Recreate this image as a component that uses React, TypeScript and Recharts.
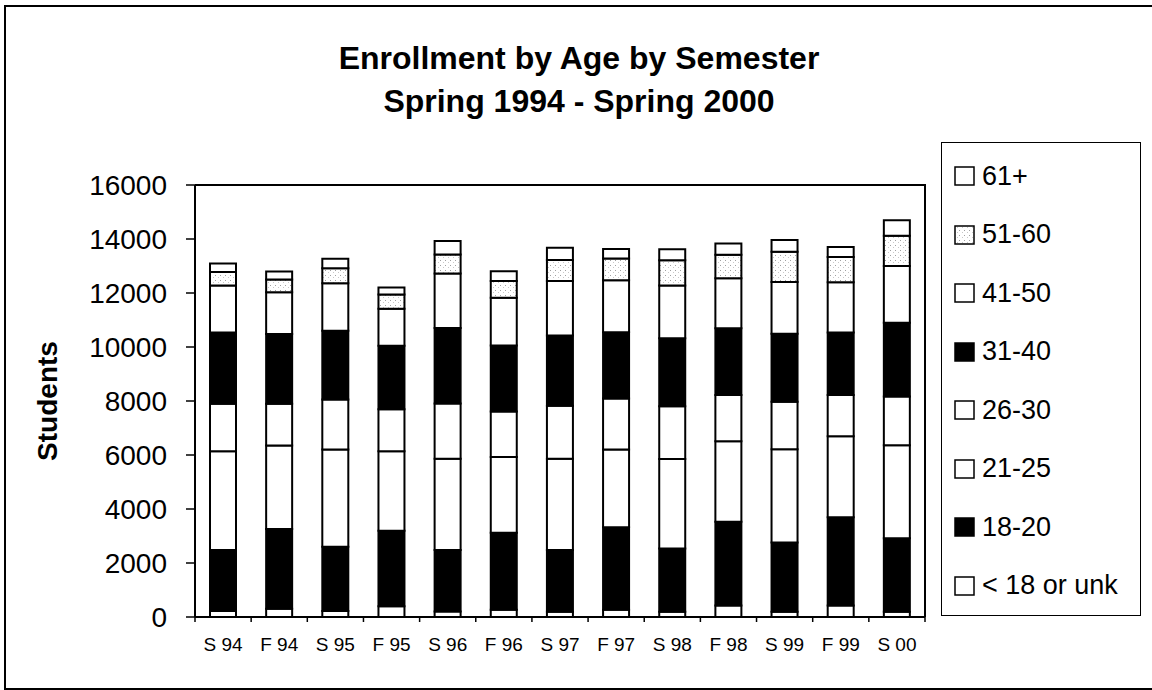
import React from 'react';
import { BarChart, Bar, XAxis, YAxis, Legend } from 'recharts';

const semesters = ['S 94', 'F 94', 'S 95', 'F 95', 'S 96', 'F 96', 'S 97', 'F 97', 'S 98', 'F 98', 'S 99', 'F 99', 'S 00'];

// students per age group
const under18 = [220, 310, 220, 400, 200, 270, 190, 270, 190, 430, 190, 430, 190];
const age18to20 = [2260, 2950, 2380, 2790, 2280, 2850, 2290, 3050, 2350, 3100, 2570, 3260, 2730];
const age21to25 = [3660, 3090, 3600, 2950, 3380, 2810, 3380, 2880, 3310, 2980, 3450, 3000, 3440];
const age26to30 = [1760, 1550, 1860, 1550, 2050, 1680, 1960, 1890, 1960, 1710, 1760, 1530, 1810];
const age31to40 = [2640, 2580, 2540, 2360, 2790, 2450, 2610, 2460, 2510, 2470, 2520, 2320, 2730];
const age41to50 = [1740, 1550, 1760, 1370, 2020, 1760, 2010, 1920, 1960, 1860, 1920, 1860, 2100];
const age51to60 = [500, 470, 560, 520, 710, 620, 780, 810, 930, 870, 1120, 930, 1120];
const age61plus = [310, 300, 350, 260, 500, 370, 460, 350, 410, 410, 430, 370, 570];

const yTicks = [0, 2000, 4000, 6000, 8000, 10000, 12000, 14000, 16000];

const series = [
  { key: 'under18', name: '< 18 or unk', values: under18, fill: '#fff' },
  { key: 'age18to20', name: '18-20', values: age18to20, fill: '#000' },
  { key: 'age21to25', name: '21-25', values: age21to25, fill: '#fff' },
  { key: 'age26to30', name: '26-30', values: age26to30, fill: '#fff' },
  { key: 'age31to40', name: '31-40', values: age31to40, fill: '#000' },
  { key: 'age41to50', name: '41-50', values: age41to50, fill: '#fff' },
  { key: 'age51to60', name: '51-60', values: age51to60, fill: 'url(#dots)' },
  { key: 'age61plus', name: '61+', values: age61plus, fill: '#fff' },
];

const data = semesters.map((sem, i) => {
  const row: Record<string, string | number> = { sem };
  series.forEach((s) => {
    row[s.key] = s.values[i];
  });
  return row;
});

const FONT = '"Liberation Sans", Arial, Helvetica, sans-serif';
const PLOT_LEFT = 195;
const PLOT_TOP = 185;
const PLOT_W = 730;
const PLOT_H = 432;
const BAND = PLOT_W / semesters.length;

const SemesterTick = (props: any) => {
  const { x, y, payload, index } = props;
  const axisY = y - 21;
  return (
    <g>
      <line x1={x - BAND / 2} y1={axisY} x2={x - BAND / 2} y2={axisY + 5} stroke="#000" strokeWidth={1.5} />
      {index === semesters.length - 1 && (
        <line x1={x + BAND / 2} y1={axisY} x2={x + BAND / 2} y2={axisY + 5} stroke="#000" strokeWidth={1.5} />
      )}
      <text x={x} y={y} dy="0.71em" textAnchor="middle" fontSize={19} fontFamily={FONT} fill="#000">
        {payload.value}
      </text>
    </g>
  );
};

const AgeLegend = () => (
  <div
    style={{
      boxSizing: 'border-box',
      width: 200,
      height: 474,
      border: '1.5px solid #000',
      background: '#fff',
      paddingTop: 4,
      fontFamily: FONT,
    }}
  >
    {[...series].reverse().map((s) => (
      <div key={s.key} style={{ display: 'flex', alignItems: 'center', height: 58.5, paddingLeft: 12 }}>
        <svg width={22} height={20} style={{ marginRight: 6 }}>
          <rect x={1} y={1} width={19} height={18} fill={s.fill} stroke="#000" strokeWidth={1.5} />
        </svg>
        <span style={{ fontSize: 27, color: '#000', whiteSpace: 'nowrap' }}>{s.name}</span>
      </div>
    ))}
  </div>
);

export default function App() {
  return (
    <div style={{ position: 'absolute', left: 0, top: 0, width: 1152, height: 690, background: '#fff', overflow: 'hidden' }}>
      <svg width={0} height={0} style={{ position: 'absolute' }}>
        <defs>
          <pattern id="dots" width={5} height={5} patternUnits="userSpaceOnUse">
            <rect width={5} height={5} fill="#fff" />
            <rect x={0} y={0} width={1} height={1} fill="#a0a0a0" />
            <rect x={3} y={2} width={1} height={1} fill="#c8c8c8" />
          </pattern>
        </defs>
      </svg>

      {/* outer chart frame */}
      <div style={{ position: 'absolute', left: 4, top: 5, width: 1170, height: 685, boxSizing: 'border-box', border: '2px solid #000' }} />

      <div style={{ position: 'absolute', left: 0, top: 37, width: 1158, textAlign: 'center', fontFamily: FONT, fontWeight: 'bold', fontSize: 32, lineHeight: '43px', color: '#000' }}>
        Enrollment by Age by Semester
        <br />
        Spring 1994 - Spring 2000
      </div>

      <div
        style={{
          position: 'absolute',
          left: 48,
          top: 401,
          transform: 'translate(-50%, -50%) rotate(-90deg)',
          fontFamily: FONT,
          fontWeight: 'bold',
          fontSize: 28,
          color: '#000',
          whiteSpace: 'nowrap',
        }}
      >
        Students
      </div>

      <div style={{ position: 'absolute', left: 0, top: 0 }}>
        <BarChart
          width={1152}
          height={690}
          data={data}
          margin={{ top: PLOT_TOP, right: 1152 - PLOT_LEFT - PLOT_W, bottom: 690 - PLOT_TOP - PLOT_H - 40, left: 0 }}
          barSize={26}
        >
          <XAxis
            dataKey="sem"
            height={40}
            axisLine={{ stroke: '#000', strokeWidth: 2 }}
            tickLine={false}
            tickSize={6}
            tickMargin={15}
            interval={0}
            tick={<SemesterTick />}
          />
          <YAxis
            width={PLOT_LEFT}
            domain={[0, 16000]}
            ticks={yTicks}
            interval={0}
            axisLine={{ stroke: '#000', strokeWidth: 2 }}
            tickLine={{ stroke: '#000', strokeWidth: 1.5 }}
            tickSize={9}
            tickMargin={19}
            tick={{ fill: '#000', fontSize: 28, fontFamily: FONT }}
          />
          <Legend
            layout="vertical"
            align="center"
            verticalAlign="middle"
            wrapperStyle={{ left: 941, top: 142, width: 200, height: 474 }}
            content={() => <AgeLegend />}
          />
          {series.map((s) => (
            <Bar
              key={s.key}
              dataKey={s.key}
              name={s.name}
              stackId="age"
              fill={s.fill}
              stroke="#000"
              strokeWidth={2}
              isAnimationActive={false}
            />
          ))}
        </BarChart>
      </div>

      {/* plot area border, top and right sides */}
      <div
        style={{
          position: 'absolute',
          left: PLOT_LEFT,
          top: PLOT_TOP - 1,
          width: PLOT_W + 1,
          height: PLOT_H + 1,
          boxSizing: 'border-box',
          borderTop: '2px solid #000',
          borderRight: '2px solid #000',
          pointerEvents: 'none',
        }}
      />
    </div>
  );
}
